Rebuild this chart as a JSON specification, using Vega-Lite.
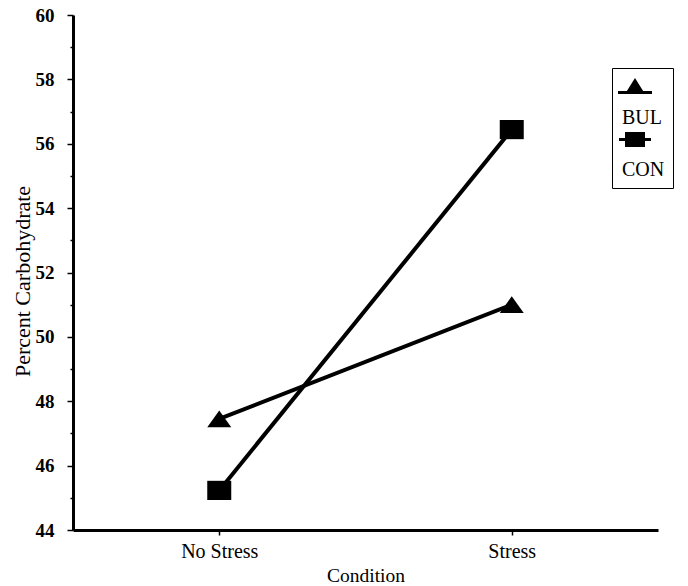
{
  "$schema": "https://vega.github.io/schema/vega-lite/v6.json",
  "width": 585,
  "height": 515,
  "autosize": {"type": "none"},
  "padding": {"left": 73, "top": 15, "right": 30, "bottom": 56},
  "background": "white",
  "config": {
    "view": {"stroke": null},
    "font": "Liberation Serif",
    "axis": {"grid": false, "domainColor": "black", "tickColor": "black", "labelColor": "black", "titleColor": "black", "labelFont": "Liberation Serif", "titleFont": "Liberation Serif", "titleFontWeight": "normal"}
  },
  "data": {
    "values": [
      {"group": "BUL", "condition": "No Stress", "pct": 47.45},
      {"group": "BUL", "condition": "Stress", "pct": 51.0},
      {"group": "CON", "condition": "No Stress", "pct": 45.23},
      {"group": "CON", "condition": "Stress", "pct": 56.44}
    ]
  },
  "encoding": {
    "x": {
      "field": "condition", "type": "nominal",
      "scale": {"type": "point", "padding": 0.5, "domain": ["No Stress", "Stress"]},
      "axis": {"title": "Condition", "labelAngle": 0, "labelFontSize": 20, "titleFontSize": 19.5, "domainWidth": 3, "tickSize": 5, "tickWidth": 1.5, "labelPadding": 6, "titlePadding": 5}
    },
    "y": {
      "field": "pct", "type": "quantitative",
      "scale": {"domain": [44, 60], "nice": false, "zero": false},
      "axis": {
        "title": "Percent Carbohydrate",
        "values": [44, 45, 46, 47, 48, 49, 50, 51, 52, 53, 54, 55, 56, 57, 58, 59, 60],
        "labelExpr": "datum.value % 2 === 0 ? datum.label : ''",
        "tickSize": {"condition": {"test": "datum.value % 2 === 0", "value": 6}, "value": 3},
        "tickWidth": 1.5,
        "domainWidth": 3,
        "labelFontSize": 19,
        "labelFontWeight": "bold",
        "labelPadding": 13,
        "titleFontSize": 22,
        "titlePadding": 1,
        "titleY": 266
      }
    }
  },
  "layer": [
    {
      "mark": {"type": "line", "color": "black", "strokeWidth": 4},
      "encoding": {"detail": {"field": "group", "type": "nominal"}}
    },
    {
      "mark": {"type": "point", "filled": true, "color": "black", "opacity": 1, "size": 576},
      "encoding": {
        "shape": {
          "field": "group", "type": "nominal",
          "scale": {"domain": ["BUL", "CON"], "range": ["M0,-0.7L1,0.7L-1,0.7Z", "M-1,-0.8L1,-0.8L1,0.8L-1,0.8Z"]},
          "legend": null
        }
      }
    },
    {
      "mark": {"type": "point", "filled": true, "color": "black", "opacity": 0, "size": 1},
      "encoding": {
        "shape": {
          "field": "group", "type": "nominal",
          "scale": {"domain": ["BUL", "CON"], "range": [
            "M0,-0.9375L0.3125,-0.4375L-0.3125,-0.4375Z M-0.531,-0.531L0.531,-0.531L0.531,-0.4375L-0.531,-0.4375Z",
            "M-0.3125,-0.875L0.3125,-0.875L0.3125,-0.406L-0.3125,-0.406Z M-0.5,-0.6875L0.5,-0.6875L0.5,-0.594L-0.5,-0.594Z"
          ]},
          "legend": {
            "title": null,
            "orient": "none",
            "legendX": 539,
            "legendY": 53,
            "direction": "vertical",
            "strokeColor": "black",
            "fillColor": "white",
            "padding": 8,
            "symbolSize": 4096,
            "symbolOffset": -17,
            "symbolOpacity": 1,
            "symbolFillColor": "black",
            "symbolStrokeColor": "black",
            "symbolStrokeWidth": 0,
            "labelFont": "Liberation Serif",
            "labelFontSize": 20,
            "labelColor": "black",
            "labelAlign": "left",
            "labelBaseline": "top",
            "labelOffset": -45,
            "labelExpr": "datum.label + '\u00a0\u00a0'",
            "rowPadding": 0
          }
        }
      }
    }
  ],
  "resolve": {"scale": {"shape": "independent"}, "legend": {"shape": "independent"}}
}
